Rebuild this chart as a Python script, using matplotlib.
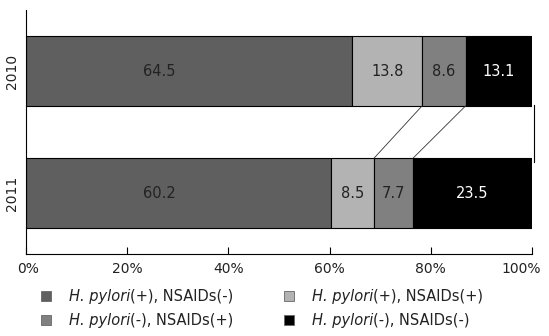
#!/usr/bin/env python3

import matplotlib
matplotlib.use('Agg')
import matplotlib.pyplot as plt
import matplotlib.transforms as mtransforms
from matplotlib.patches import Rectangle
import numpy as np

##################

years = ['2011', '2010']
group_italic = ['H. pylori', 'H. pylori', 'H. pylori', 'H. pylori']
group_rest = ['(+), NSAIDs(-)', '(+), NSAIDs(+)', '(-), NSAIDs(+)', '(-), NSAIDs(-)']
vals_2011 = [60.2, 8.5, 7.7, 23.5]
vals_2010 = [64.5, 13.8, 8.6, 13.1]
colors = ['#5f5f5f', '#b3b3b3', '#808080', '#000000']
text_colors = ['#222222', '#222222', '#222222', '#ffffff']

##################

W, H = 549, 336
FIRST_LABEL_X = 26.3  # the first segment's labels sit left of centre in the original
plt.rcParams['font.family'] = 'DejaVu Sans'

fig = plt.figure(figsize=(W / 100, H / 100), dpi=100)
ax = fig.add_axes([26 / W, 1 - 254 / H, (532 - 26) / W, (254 - 10) / H])

data = np.array([vals_2011, vals_2010])
pct = data / data.sum(axis=1, keepdims=True) * 100
ypos = np.arange(len(years))
h = 0.57

left = np.zeros(len(years))
for i in range(len(colors)):
    ax.barh(ypos, pct[:, i], left=left, height=h, color=colors[i],
            edgecolor='black', linewidth=0.8)
    for j in range(len(years)):
        xt = FIRST_LABEL_X if i == 0 else left[j] + pct[j, i] / 2
        ax.text(xt, ypos[j], f'{data[j, i]:.1f}',
                ha='center', va='center', fontsize=10.5, color=text_colors[i])
    left = left + pct[:, i]

# series lines between the bars
cum = np.cumsum(pct, axis=1)
for i in [1, 2]:
    ax.plot([cum[1, i], cum[0, i]], [1 - h / 2, h / 2], color='#333333', lw=0.6)
ax.plot([100.4, 100.4], [1 - h / 2 + 0.01, h / 2 - 0.03], color='black', lw=0.8, clip_on=False)

ax.set_xlim(0, 100)
ax.set_ylim(-0.5, 1.5)
ax.set_xticks(np.arange(0, 101, 20))
ax.set_xticklabels([f'{v}%' for v in range(0, 101, 20)], fontsize=10, color='#222222')
ax.tick_params(axis='x', direction='in', length=5, pad=6)
labs = ax.get_xticklabels()
labs[0].set_transform(labs[0].get_transform() + mtransforms.ScaledTranslation(0.02, 0, fig.dpi_scale_trans))
labs[-1].set_transform(labs[-1].get_transform() + mtransforms.ScaledTranslation(-0.11, 0, fig.dpi_scale_trans))
ax.set_yticks(ypos)
ax.set_yticklabels(years, rotation=90, va='center', fontsize=10, color='#222222')
ax.tick_params(axis='y', length=0, pad=5)
ax.spines['top'].set_visible(False)
ax.spines['right'].set_visible(False)

# legend, laid out row by row as in the original
leg_x = [41, 284]
leg_y = [296, 320]
for k in range(len(colors)):
    col, row = k % 2, k // 2
    x0, yc = leg_x[col], leg_y[row]
    fig.add_artist(Rectangle((x0 / W, 1 - (yc + 5) / H), 10 / W, 10 / H,
                             transform=fig.transFigure, facecolor=colors[k],
                             edgecolor='#666666', linewidth=0.6))
    t = fig.text((x0 + 28) / W, 1 - yc / H, group_italic[k], fontsize=10.5,
                 style='italic', va='center', ha='left', color='#222222')
    fig.add_artist(plt.Annotation(group_rest[k], xy=(1, 0), xycoords=t,
                                  va='bottom', ha='left', fontsize=10.5,
                                  color='#222222'))

plt.savefig('out.png', dpi=100)
plt.close()
